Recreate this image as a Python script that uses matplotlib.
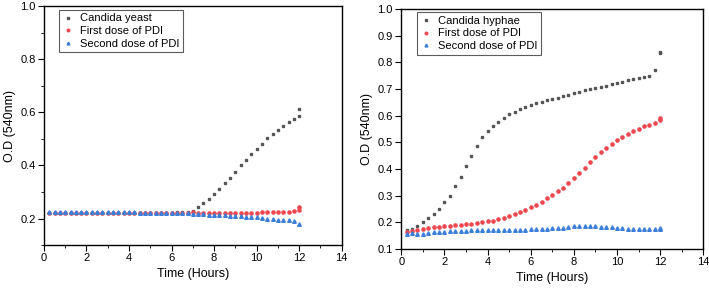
import numpy as np
import matplotlib
matplotlib.use('Agg')
import matplotlib.pyplot as plt

plt.rcParams['font.family'] = ['Liberation Sans', 'DejaVu Sans']

# sampling times (hours)
time = [0.25, 0.5, 0.75, 1.0, 1.25, 1.5, 1.75, 2.0, 2.25, 2.5, 2.75, 3.0,
        3.25, 3.5, 3.75, 4.0, 4.25, 4.5, 4.75, 5.0, 5.25, 5.5, 5.75, 6.0,
        6.25, 6.5, 6.75, 7.0, 7.25, 7.5, 7.75, 8.0, 8.25, 8.5, 8.75, 9.0,
        9.25, 9.5, 9.75, 10.0, 10.25, 10.5, 10.75, 11.0, 11.25, 11.5, 11.75, 12.0]

# left panel: yeast
yeast = [0.222, 0.222, 0.221, 0.221, 0.222, 0.221, 0.221, 0.221, 0.222, 0.222, 0.222, 0.221,
         0.221, 0.221, 0.221, 0.221, 0.221, 0.221, 0.221, 0.221, 0.221, 0.222, 0.222, 0.222,
         0.223, 0.223, 0.224, 0.229, 0.243, 0.257, 0.273, 0.292, 0.312, 0.332, 0.352, 0.374,
         0.400, 0.421, 0.442, 0.463, 0.482, 0.502, 0.517, 0.532, 0.547, 0.562, 0.576, 0.587]
yeast_pdi1 = [0.221, 0.221, 0.220, 0.220, 0.220, 0.220, 0.220, 0.220, 0.220, 0.220, 0.220, 0.220,
              0.220, 0.220, 0.220, 0.220, 0.220, 0.220, 0.220, 0.220, 0.220, 0.221, 0.221, 0.221,
              0.222, 0.222, 0.222, 0.223, 0.222, 0.222, 0.221, 0.221, 0.221, 0.221, 0.221, 0.221,
              0.222, 0.222, 0.222, 0.222, 0.223, 0.223, 0.224, 0.224, 0.225, 0.226, 0.227, 0.232]
yeast_pdi2 = [0.223, 0.223, 0.223, 0.223, 0.223, 0.223, 0.223, 0.224, 0.224, 0.225, 0.225, 0.224,
              0.224, 0.224, 0.223, 0.223, 0.223, 0.222, 0.222, 0.222, 0.222, 0.222, 0.222, 0.222,
              0.221, 0.220, 0.219, 0.218, 0.217, 0.216, 0.215, 0.214, 0.213, 0.212, 0.211, 0.210,
              0.208, 0.207, 0.206, 0.204, 0.202, 0.200, 0.198, 0.196, 0.195, 0.193, 0.191, 0.181]
yeast_extra = [0.611, 0.242]

# right panel: hyphae
hyphae = [0.170, 0.175, 0.185, 0.200, 0.215, 0.230, 0.250, 0.275, 0.300, 0.335, 0.370, 0.410,
          0.450, 0.487, 0.520, 0.542, 0.562, 0.578, 0.592, 0.605, 0.615, 0.625, 0.632, 0.640,
          0.646, 0.652, 0.658, 0.663, 0.668, 0.673, 0.679, 0.685, 0.690, 0.695, 0.700, 0.705,
          0.709, 0.713, 0.717, 0.722, 0.727, 0.732, 0.736, 0.740, 0.745, 0.750, 0.772, 0.838]
hyphae_pdi1 = [0.165, 0.168, 0.172, 0.176, 0.180, 0.182, 0.184, 0.186, 0.188, 0.190, 0.192, 0.193,
               0.195, 0.197, 0.200, 0.204, 0.207, 0.212, 0.218, 0.224, 0.232, 0.240, 0.248, 0.257,
               0.267, 0.277, 0.290, 0.302, 0.316, 0.330, 0.348, 0.365, 0.385, 0.405, 0.425, 0.445,
               0.463, 0.480, 0.495, 0.510, 0.522, 0.533, 0.543, 0.552, 0.560, 0.567, 0.574, 0.583]
hyphae_pdi2 = [0.155, 0.160, 0.155, 0.158, 0.162, 0.164, 0.165, 0.166, 0.167, 0.168, 0.169, 0.169,
               0.170, 0.170, 0.170, 0.171, 0.171, 0.171, 0.171, 0.172, 0.172, 0.173, 0.173, 0.174,
               0.175, 0.176, 0.177, 0.178, 0.180, 0.181, 0.183, 0.185, 0.187, 0.186, 0.185, 0.185,
               0.184, 0.183, 0.182, 0.180, 0.178, 0.176, 0.175, 0.174, 0.174, 0.175, 0.176, 0.177]
hyphae_extra = [0.836, 0.590, 0.180]

GRAY = '#555555'
RED = '#ee474f'
BLUE = '#3b7fd8'


def style_axis(ax, yticks):
    ax.set_xlim(0, 14)
    ax.set_ylim(0.1, 1.0)
    ax.set_xticks(range(0, 15, 2))
    ax.set_xticks(range(1, 14, 2), minor=True)
    ax.set_yticks(yticks)
    ax.set_yticks(np.arange(0.1, 1.01, 0.1), minor=True)
    ax.tick_params(which='both', direction='out', labelsize=8, top=False, right=False, pad=2)
    ax.tick_params(which='major', length=4)
    ax.tick_params(which='minor', length=2.5)
    for side in ['top', 'right', 'left', 'bottom']:
        ax.spines[side].set_linewidth(1.0)
    ax.set_xlabel('Time (Hours)', fontsize=9, labelpad=3)
    ax.set_ylabel('O.D (540nm)', fontsize=9, labelpad=3)


fig = plt.figure(figsize=(7.09, 2.89), dpi=100)
ax1 = fig.add_axes([0.062, 0.152, 0.420, 0.827])
ax2 = fig.add_axes([0.566, 0.138, 0.426, 0.831])

sq, ci, tr = 2.0, 2.3, 2.6
ax1.plot(time, yeast, 's', color=GRAY, ms=sq, label='Candida yeast')
ax1.plot(time, yeast_pdi1, 'o', color=RED, ms=ci, label='First dose of PDI')
ax1.plot(time, yeast_pdi2, '^', color=BLUE, ms=tr, label='Second dose of PDI')
ax1.plot(12, yeast_extra[0], 's', color=GRAY, ms=sq)
ax1.plot(12, yeast_extra[1], 'o', color=RED, ms=ci)
style_axis(ax1, [0.2, 0.4, 0.6, 0.8, 1.0])

ax2.plot(time, hyphae, 's', color=GRAY, ms=sq, label='Candida hyphae')
ax2.plot(time, hyphae_pdi1, 'o', color=RED, ms=ci, label='First dose of PDI')
ax2.plot(time, hyphae_pdi2, '^', color=BLUE, ms=tr, label='Second dose of PDI')
ax2.plot(12, hyphae_extra[0], 's', color=GRAY, ms=sq)
ax2.plot(12, hyphae_extra[1], 'o', color=RED, ms=ci)
ax2.plot(12, hyphae_extra[2], '^', color=BLUE, ms=tr)
style_axis(ax2, np.round(np.arange(0.1, 1.01, 0.1), 1))

for ax, anchor in ((ax1, (0.05, 0.983)), (ax2, (0.053, 0.986))):
    leg = ax.legend(loc='upper left', bbox_to_anchor=anchor, fontsize=8,
                    frameon=True, fancybox=False, handletextpad=0.6,
                    borderpad=0.3, labelspacing=0.25, handlelength=1.0, markerscale=0.8,
                    borderaxespad=0)
    leg.get_frame().set_edgecolor('#333333')
    leg.get_frame().set_linewidth(0.8)

fig.savefig('out.png', dpi=100)
